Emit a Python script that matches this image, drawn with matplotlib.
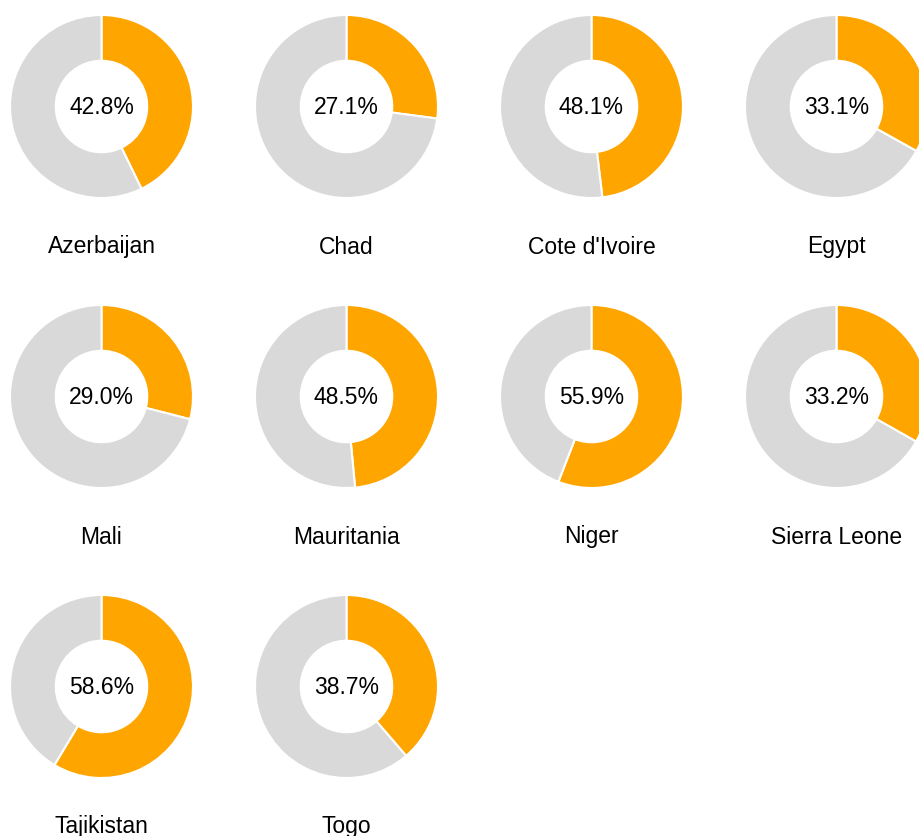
import matplotlib
matplotlib.use("Agg")
import matplotlib.pyplot as plt

plt.rcParams['font.family'] = ['Liberation Sans', 'DejaVu Sans']

# --- Data ---
countries = ['Azerbaijan', 'Chad', "Cote d'Ivoire", 'Egypt',
             'Mali', 'Mauritania', 'Niger', 'Sierra Leone',
             'Tajikistan', 'Togo']
shares = [42.8, 27.1, 48.1, 33.1, 29.0, 48.5, 55.9, 33.2, 58.6, 38.7]

orange = '#FFA500'
grey = '#D9D9D9'

W, H = 920, 837
fig = plt.figure(figsize=(W / 100, H / 100), dpi=100)
ax = fig.add_axes([0, 0, 1, 1])

ncol = 4
x0, dx = 101.5, 245
y0, dy = 107.5, 290
r_out = 91.5

for i, (name, val) in enumerate(zip(countries, shares)):
    row, col = divmod(i, ncol)
    cx = x0 + col * dx
    cy = H - (y0 + row * dy)
    ax.pie([val, 100 - val], colors=[orange, grey], startangle=90,
           counterclock=False, radius=r_out, center=(cx, cy),
           wedgeprops=dict(width=r_out * 0.5, edgecolor='white', linewidth=1.5),
           frame=True)
    ax.text(cx, cy, f'{val:.1f}%', ha='center', va='center', fontsize=16.5)
    ax.text(cx, cy - 139.5, name, ha='center', va='center', fontsize=16.5)

ax.set_xlim(0, W)
ax.set_ylim(0, H)
ax.set_aspect('equal')
ax.axis('off')

fig.savefig('out.png', dpi=100)
